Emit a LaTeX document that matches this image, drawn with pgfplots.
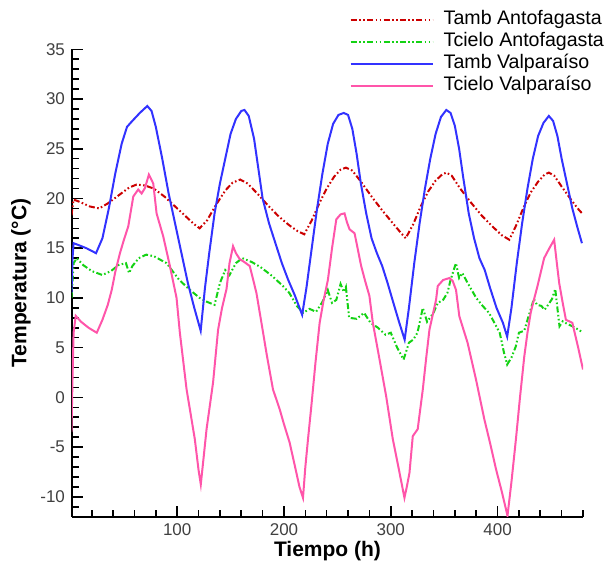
\documentclass[border=0pt]{standalone}
\usepackage{fontspec}
\setmainfont{Liberation Sans}
\usepackage{pgfplots}
\pgfplotsset{compat=1.18}

\definecolor{tambA}{RGB}{204,0,0}
\definecolor{tcieloA}{RGB}{20,210,20}
\definecolor{tambV}{RGB}{50,50,255}
\definecolor{tcieloV}{RGB}{255,85,170}

\begin{document}
\begin{tikzpicture}
\begin{axis}[
    scale only axis,
    width=255.5pt, height=233.7pt,
    xmin=1.5, xmax=480, ymin=-12, ymax=35,
    axis x line=bottom, axis y line=left,
    axis line style={-, line width=1pt, black},
    tick align=inside,
    xtick={100,200,300,400},
    minor xtick={20,40,...,480},
    ytick={-10,-5,...,35},
    minor ytick={-11,-10,...,34},
    major tick length=5.3pt, minor tick length=3.3pt,
    every tick/.style={black, line width=0.8pt},
    /pgf/number format/assume math mode=true,
    ticklabel style={font=\fontsize{8.5}{10}\selectfont, text=black!75},
    xlabel={\textbf{Tiempo (h)}},
    ylabel={\textbf{Temperatura (°C)}},
    label style={font=\fontsize{10.5}{12}\selectfont},
    xlabel style={yshift=4pt},
    ylabel style={yshift=-2pt},
    legend cell align=left,
    legend style={draw=none, fill=none, anchor=north west,
        at={(0.531,1.095)}, row sep=0pt, column sep=4pt,
        font=\fontsize{9.8}{11}\selectfont,
        nodes={inner sep=1pt, text height=6.8pt, text depth=2.2pt}},
    legend image code/.code={\draw[#1] (0pt,0pt) -- (41pt,0pt);},
    every axis plot/.append style={line width=1pt},
]
\addplot[color=tambA, dash pattern=on 3pt off 1.2pt on 0.8pt off 1.2pt on 0.8pt off 1.2pt] coordinates {
(1,18.3)(3,19.9)(10,19.6)(18,19.2)(27,19.0)(35,19.5)(45,20.3)(55,21.1)(62,21.4)(70,21.3)
(78,21.0)(88,20.2)(98,19.2)(108,18.2)(116,17.4)(121,17.0)(128,17.8)(136,19.3)(145,20.8)
(152,21.6)(159,21.9)(166,21.5)(175,20.5)(185,19.3)(195,18.2)(205,17.3)(213,16.7)(219,16.4)
(226,17.8)(233,19.5)(240,21.0)(247,22.2)(253,22.9)(258,23.1)(264,22.8)(272,21.7)(282,20.2)
(292,18.8)(302,17.5)(309,16.6)(314,16.0)(321,17.4)(328,19.2)(335,20.7)(342,21.8)(348,22.4)
(352,22.6)(357,22.3)(365,21.0)(375,19.6)(385,18.3)(395,17.2)(404,16.3)(411,15.85)(417,17.2)
(424,19.0)(431,20.6)(438,21.7)(444,22.4)(448,22.6)(453,22.3)(460,21.2)(468,20.0)(475,19.0)
(480,18.4)};
\addlegendentry{Tamb Antofagasta}
\addplot[color=tcieloA, dash pattern=on 3pt off 1.2pt on 0.8pt off 1.2pt on 0.8pt off 1.2pt] coordinates {
(1,10)(3,13.5)(6,14)(12,13.3)(20,12.7)(30,12.3)(38,12.7)(45,13.3)(52,13.5)(55,12.5)(58,13.2)
(64,14)(71,14.35)(78,14.2)(90,13.5)(102,11.8)(112,10.8)(121,10.0)(128,9.6)(135,9.3)(140,11.5)
(145,12.8)(149,12.3)(155,13.5)(161,14.0)(170,13.6)(178,13.1)(189,12.2)(199,11.2)(205,10.5)
(212,9.2)(218,8.5)(224,8.9)(230,8.6)(236,9.6)(241,10.8)(245,9.5)(249,9.8)(253,11.4)(256,10.6)
(258,11.1)(261,8.0)(268,7.9)(275,8.5)(281,7.5)(288,7.0)(295,6.3)(300,6.5)(306,5.0)(312,3.8)
(317,5.5)(321,5.8)(325,6.5)(327,7.5)(330,9.0)(334,7.6)(340,8.5)(344,9.5)(349,9.8)(353,10.5)
(356,11.8)(361,13.5)(364,12.0)(367,12.5)(372,11.5)(380,10.0)(386,9.2)(392,8.5)(397,7.5)
(402,6.5)(406,4.5)(409,3.3)(413,4.0)(417,5.1)(420,6.5)(425,6.7)(430,8.5)(434,9.9)(437,9.3)
(441,9.2)(444,8.8)(448,9.4)(451,9.9)(454,10.9)(456,9.0)(458,7.15)(461,7.65)(465,7.4)(470,7.15)
(476,6.8)(480,6.5)};
\addlegendentry{Tcielo Antofagasta}
\addplot[color=tambV] coordinates {
(1,10.5)(2,14)(3,15.5)(8,15.3)(15,15)(24,14.5)(30,16)(36,19)(42,22.5)(48,25.5)(53,27.2)
(58,27.8)(65,28.6)(72,29.3)(76,28.8)(80,27.2)(86,24)(92,20.5)(98,17.5)(104,14.5)(110,11.5)
(116,9)(122,6.7)(126,11)(130,14.5)(135,18.5)(140,21.5)(145,24)(150,26.5)(155,28)(160,28.8)
(163,28.9)(167,28.3)(172,26)(176,23)(180,20)(186,17.5)(192,15.5)(198,13.5)(204,11.8)(210,10.3)
(217,8.3)(221,11)(226,15)(231,19)(236,22.5)(241,25.5)(246,27.5)(251,28.4)(256,28.6)(260,28.4)
(264,27)(268,24.5)(272,21.5)(277,18.5)(282,16)(287,14.5)(292,13.2)(297,11.5)(303,9.3)(308,7.5)
(313,5.8)(317,9)(322,13.5)(327,17.5)(332,21)(337,24)(342,26.5)(347,28.2)(352,28.9)(356,28.6)
(360,27.3)(364,25)(368,22)(373,18.5)(378,16)(383,14)(388,12.8)(393,11)(399,9)(405,7.5)(409,6.1)
(413,9)(418,13.5)(423,17.5)(428,21)(433,24)(438,26.3)(443,27.6)(448,28.3)(452,27.8)(456,26.3)
(460,24)(465,21.5)(470,19)(475,17)(479,15.5)};
\addlegendentry{Tamb Valparaíso}
\addplot[color=tcieloV] coordinates {
(1,-3.5)(2,2)(3,6.5)(5,8.2)(10,7.6)(17,7.0)(24.7,6.5)(30,7.8)(35,9.3)(38.7,10.8)(42,12.6)
(46.4,14.5)(50,15.8)(54.2,17.2)(58.9,20.2)(63.5,20.9)(66.7,20.5)(69.8,21.05)(73.5,22.4)
(77.6,21.5)(80.7,18.5)(86.9,16.2)(93.2,13.2)(99.4,10.0)(102.5,6.5)(108.8,0.8)(116.5,-4.2)
(120,-7.3)(122.1,-8.75)(124.5,-6.3)(127.5,-3.2)(133.6,1.5)(138.3,6.8)(142,9.0)(146.2,10.9)
(149,13.5)(152.3,15.2)(155,14.5)(158.6,13.9)(163,13.6)(168,13.2)(174.2,10.5)(178.9,7.5)
(184,4.2)(189.7,0.8)(196,-1.2)(200,-2.7)(205.3,-4.55)(210,-6.8)(214.5,-9.0)(217.8,-10.1)
(220,-7.0)(222.5,-4.2)(225.6,-0.9)(229.5,3.5)(233.4,7.5)(237,9.7)(241.1,11.8)(245,15.0)
(249,17.9)(253,18.4)(256.7,18.5)(259,17.6)(261.4,16.9)(266.1,16.5)(272.3,13.2)(276,11.7)
(280,10.2)(283.2,7.5)(289.5,3.8)(295.7,0.1)(301.9,-4.2)(307.5,-7.2)(312.8,-10.1)(315,-9.0)
(317.5,-7.6)(320.6,-3.9)(325.2,-3.2)(330,0.8)(333,3.8)(336.2,6.8)(342.4,9.8)(344,11.2)
(349,11.8)(354.9,12.0)(358,11.7)(361.1,10.8)(364.2,8.15)(371.9,5.5)(379.8,1.8)(387.6,-2.2)
(393,-4.6)(398.5,-7.2)(404,-9.5)(409.3,-11.9)(413,-8.5)(417.2,-4.2)(421,0)(425,4.1)(428,6.5)
(431,8.5)(434,9.8)(437.4,11.2)(443.6,14.0)(448,14.9)(453,15.85)(455.5,13.5)(457.7,11.5)
(461,9.5)(464,7.8)(470,7.5)(475.5,5.0)(480,2.8)};
\addlegendentry{Tcielo Valparaíso}
\end{axis}
\pgfresetboundingbox
\path (current axis.south west) ++(-36pt,-23.15pt) rectangle ++(303.5pt,281.5pt);
\end{tikzpicture}
\end{document}
